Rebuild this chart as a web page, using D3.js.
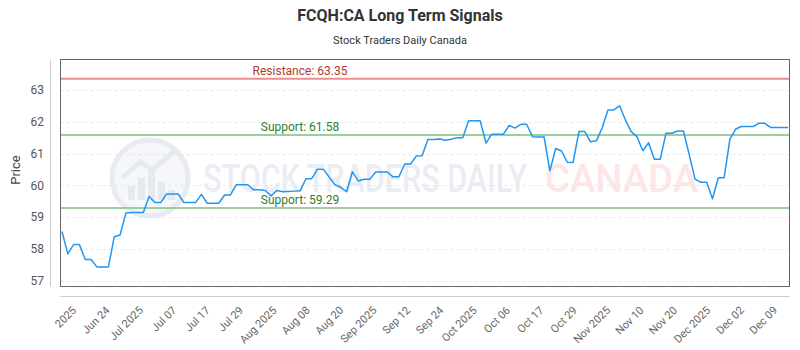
<!DOCTYPE html>
<html>
<head>
<meta charset="utf-8">
<script src="https://cdn.jsdelivr.net/npm/d3@7"></script>
<style>
  body { margin: 0; background: #fff; }
  svg { display: block; font-family: Roboto, "Open Sans", sans-serif; }
</style>
</head>
<body>
<div id="chart"></div>
<script>
// Chart values
const tickLabels = ['2025', 'Jun 24', 'Jul 2025', 'Jul 07', 'Jul 17', 'Jul 29', 'Aug 2025', 'Aug 08', 'Aug 20',
  'Sep 2025', 'Sep 12', 'Sep 24', 'Oct 2025', 'Oct 06', 'Oct 17', 'Oct 29', 'Nov 2025', 'Nov 10', 'Nov 20',
  'Dec 2025', 'Dec 02', 'Dec 09'];

const prices = [
  58.55, 57.85, 58.14, 58.14, 57.67, 57.67, 57.44, 57.44, 57.44, 58.39,
  58.44, 59.13, 59.15, 59.15, 59.15, 59.65, 59.46, 59.46, 59.73, 59.73,
  59.73, 59.46, 59.46, 59.46, 59.72, 59.44, 59.44, 59.44, 59.70, 59.70,
  60.02, 60.02, 60.02, 59.86, 59.86, 59.84, 59.67, 59.84, 59.80, 59.81,
  59.82, 59.83, 60.21, 60.21, 60.51, 60.51, 60.26, 60.02, 59.94, 59.80,
  60.43, 60.14, 60.19, 60.19, 60.42, 60.42, 60.42, 60.27, 60.27, 60.67,
  60.67, 60.92, 60.93, 61.44, 61.44, 61.46, 61.42, 61.45, 61.50, 61.50,
  62.03, 62.03, 62.03, 61.33, 61.61, 61.61, 61.61, 61.88, 61.80, 61.92,
  61.92, 61.53, 61.52, 61.52, 60.46, 61.16, 61.08, 60.73, 60.72, 61.69,
  61.69, 61.37, 61.40, 61.80, 62.37, 62.37, 62.50, 62.06, 61.69, 61.53,
  61.09, 61.34, 60.82, 60.82, 61.64, 61.64, 61.71, 61.71, 60.96, 60.19,
  60.10, 60.10, 59.58, 60.24, 60.24, 61.45, 61.77, 61.85, 61.85, 61.85,
  61.95, 61.95, 61.82, 61.82, 61.82, 61.82
];

const resistanceLevels = [63.35];
const supportLevels = [61.58, 59.29];
const yTicks = [57, 58, 59, 60, 61, 62, 63];

const width = 800, height = 350;
const box = { left: 60.5, right: 789.5, top: 59.5, bottom: 286.5 };

const svg = d3.select('#chart').append('svg')
  .attr('width', width)
  .attr('height', height);

const x = d3.scaleLinear()
  .domain([0, prices.length - 1])
  .range([62, 788]);

const y = d3.scaleLinear()
  .domain([56.84, 63.97])
  .range([box.bottom - 0.5, box.top - 0.5]);

const xTicks = d3.scalePoint()
  .domain(tickLabels)
  .range([77, 778]);

// titles
svg.append('text')
  .attr('x', 400).attr('y', 21)
  .attr('text-anchor', 'middle')
  .attr('font-size', 16).attr('font-weight', 'bold')
  .attr('fill', '#333')
  .text('FCQH:CA Long Term Signals');

svg.append('text')
  .attr('x', 400).attr('y', 44)
  .attr('text-anchor', 'middle')
  .attr('font-size', 11)
  .attr('fill', '#333')
  .text('Stock Traders Daily Canada');

// watermark
const wm = svg.append('g');
wm.append('circle')
  .attr('cx', 150).attr('cy', 178).attr('r', 38)
  .attr('fill', '#f6f7fb')
  .attr('stroke', '#e8ebf2').attr('stroke-width', 5);
[[128, 14], [138, 22], [148, 30], [158, 18], [168, 10]].forEach(([bx, bh]) => {
  wm.append('rect')
    .attr('x', bx).attr('y', 200 - bh).attr('width', 7).attr('height', bh)
    .attr('fill', '#e6e9f0');
});
wm.append('path')
  .attr('d', 'M122,178 L140,162 L152,170 L176,150')
  .attr('fill', 'none').attr('stroke', '#e6e9f0').attr('stroke-width', 5);
wm.append('text')
  .attr('x', 203).attr('y', 192)
  .attr('font-size', 38).attr('font-weight', 500)
  .attr('textLength', 324).attr('lengthAdjust', 'spacingAndGlyphs')
  .attr('fill', '#eaedf4')
  .text('STOCK TRADERS DAILY');
wm.append('text')
  .attr('x', 545).attr('y', 192)
  .attr('font-size', 38).attr('font-weight', 500)
  .attr('textLength', 153).attr('lengthAdjust', 'spacingAndGlyphs')
  .attr('fill', '#fde6e6')
  .text('CANADA');

// grid
svg.append('g').selectAll('line')
  .data(yTicks)
  .join('line')
  .attr('x1', box.left).attr('x2', box.right)
  .attr('y1', d => Math.round(y(d)) + 0.5).attr('y2', d => Math.round(y(d)) + 0.5)
  .attr('stroke', '#e6e6e6')
  .attr('stroke-dasharray', '3,3');

// y axis labels
svg.append('g').selectAll('text')
  .data(yTicks)
  .join('text')
  .attr('x', 44).attr('y', d => y(d))
  .attr('dy', '0.35em')
  .attr('text-anchor', 'end')
  .attr('font-size', 12)
  .attr('fill', '#555')
  .text(d => d);

svg.append('text')
  .attr('transform', 'translate(20,170) rotate(-90)')
  .attr('text-anchor', 'middle')
  .attr('font-size', 13)
  .attr('fill', '#444')
  .text('Price');

// outer axis lines
svg.append('line')
  .attr('x1', 50.5).attr('x2', 50.5).attr('y1', box.top).attr('y2', box.bottom)
  .attr('stroke', '#ccc');
svg.append('line')
  .attr('x1', box.left).attr('x2', box.right).attr('y1', 296.5).attr('y2', 296.5)
  .attr('stroke', '#ccc');

// x axis labels
svg.append('g').selectAll('text')
  .data(tickLabels)
  .join('text')
  .attr('transform', d => `translate(${xTicks(d)},311) rotate(-45)`)
  .attr('text-anchor', 'end')
  .attr('font-size', 11)
  .attr('fill', '#666')
  .text(d => d);

// resistance / support levels
resistanceLevels.forEach(v => {
  svg.append('line')
    .attr('x1', box.left).attr('x2', box.right)
    .attr('y1', y(v)).attr('y2', y(v))
    .attr('stroke', '#f08c8c').attr('stroke-width', 2);
  svg.append('text')
    .attr('x', 300).attr('y', y(v) - 4)
    .attr('text-anchor', 'middle')
    .attr('font-size', 12)
    .attr('fill', '#b03a2e')
    .text('Resistance: ' + v.toFixed(2));
});

supportLevels.forEach(v => {
  svg.append('line')
    .attr('x1', box.left).attr('x2', box.right)
    .attr('y1', y(v)).attr('y2', y(v))
    .attr('stroke', '#9ccf9c').attr('stroke-width', 2);
});

// price line
const line = d3.line()
  .x((d, i) => x(i))
  .y(d => y(d));

svg.append('path')
  .datum(prices)
  .attr('d', line)
  .attr('fill', 'none')
  .attr('stroke', '#2196f3')
  .attr('stroke-width', 1.5)
  .attr('stroke-linejoin', 'round');

supportLevels.forEach(v => {
  svg.append('text')
    .attr('x', 300).attr('y', y(v) - 4)
    .attr('text-anchor', 'middle')
    .attr('font-size', 12)
    .attr('fill', '#2e7d32')
    .text('Support: ' + v.toFixed(2));
});

// plot border
svg.append('rect')
  .attr('x', box.left).attr('y', box.top)
  .attr('width', box.right - box.left).attr('height', box.bottom - box.top)
  .attr('fill', 'none')
  .attr('stroke', '#666');
</script>
</body>
</html>
